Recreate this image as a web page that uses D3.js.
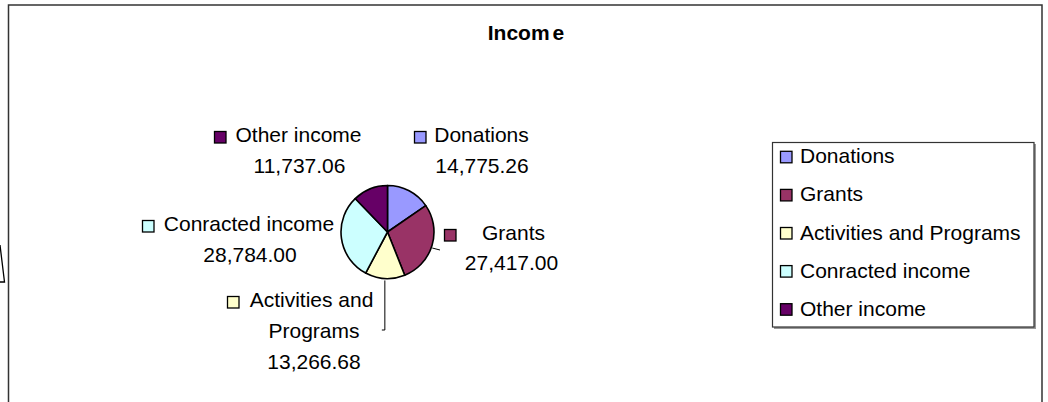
<!DOCTYPE html>
<html><head><meta charset="utf-8">
<script src="https://cdn.jsdelivr.net/npm/d3@7"></script>
<style>
html,body{margin:0;padding:0;background:#fff;}
svg{display:block;font-family:"Liberation Sans",Arial,sans-serif;}
</style></head>
<body><svg id="chart" width="1048" height="402"></svg>
<script>
const categories = ["Donations","Grants","Activities and Programs","Conracted income","Other income"];
const values = [14775.26, 27417.00, 13266.68, 28784.00, 11737.06];
const colors = ["#9999FF","#993366","#FFFFCC","#CCFFFF","#660066"];
const chartTitle = "Income";

const svg = d3.select("#chart");
const fmt = d3.format(",.2f");

// chart frame
svg.append("path").attr("d","M8.5,410 V5 H1042 V410").attr("fill","none").attr("stroke","#333").attr("stroke-width",1.5);
// small fragment at far left
svg.append("path").attr("d","M0,245 L4.5,282 L0,282").attr("fill","none").attr("stroke","#000").attr("stroke-width",1.3);

// title
const t = svg.append("text").attr("x",526).attr("y",40).attr("text-anchor","middle")
  .attr("font-size",21).attr("font-weight","bold").attr("fill","#000");
t.append("tspan").text(chartTitle.slice(0,5));
t.append("tspan").attr("dx",3).text(chartTitle.slice(5));

// pie
const cx = 387.5, cy = 232, r = 46.5;
const pie = d3.pie().sort(null).value(d => d.v);
const arcs = pie(values.map((v,i)=>({v, name:categories[i], c:colors[i]})));
const arc = d3.arc().innerRadius(0).outerRadius(r);
const g = svg.append("g").attr("transform",`translate(${cx},${cy})`);
g.selectAll("path").data(arcs).join("path").attr("d",arc)
  .attr("fill",d=>d.data.c).attr("stroke","#000").attr("stroke-width",1.6).attr("stroke-linejoin","round");

// leader lines
const leader = d3.line();
function edgePt(a, extra){ return [cx + Math.sin(a)*(r+extra), cy - Math.cos(a)*(r+extra)]; }
const midG = (arcs[1].startAngle+arcs[1].endAngle)/2;
const midA = (arcs[2].startAngle+arcs[2].endAngle)/2;
svg.append("path").attr("d", leader([edgePt(midG+0.05,1), [440,250]])).attr("fill","none").attr("stroke","#000").attr("stroke-width",1);
svg.append("path").attr("d", leader([edgePt(midA,2), [edgePt(midA,2)[0],330],[edgePt(midA,2)[0]-3,330]])).attr("fill","none").attr("stroke","#000").attr("stroke-width",1);

// data labels: each line is [text, centerX, baseline]
const FS = 21;
const labelLayout = [
  {i:0, sw:[414,131], lines:[["Donations",481.5,142.3],[null,482,173.3]]},
  {i:1, sw:[444,229], lines:[["Grants",513.5,240],[null,511.5,270]]},
  {i:2, sw:[227,296], lines:[["Activities and",311.5,306.7],["Programs",314,337.7],[null,314,368.7]]},
  {i:3, sw:[142,220], lines:[["Conracted income",249,231],[null,250,261.7]]},
  {i:4, sw:[214,131], lines:[["Other income",298.5,142.3],[null,299.5,173.3]]}
];
const lab = svg.append("g").attr("font-size",FS).attr("fill","#000");
labelLayout.forEach(L=>{
  lab.append("rect").attr("x",L.sw[0]+0.5).attr("y",L.sw[1]+0.5).attr("width",11.5).attr("height",11.5)
    .attr("fill",colors[L.i]).attr("stroke","#000").attr("stroke-width",1.3);
  L.lines.forEach(([txt,x,y])=>{
    lab.append("text").attr("x",x).attr("y",y).attr("text-anchor","middle")
      .text(txt===null ? fmt(values[L.i]) : txt);
  });
});

// legend
const lg = svg.append("g");
lg.append("rect").attr("x",774).attr("y",144).attr("width",262).attr("height",185).attr("fill","#999");
lg.append("rect").attr("x",772.5).attr("y",142.5).attr("width",261.5).attr("height",184.5)
  .attr("fill","#fff").attr("stroke","#333").attr("stroke-width",1.2);
const ly = d3.scalePoint().domain(categories).range([163.3,315.7]);
categories.forEach((c,i)=>{
  const y = ly(c);
  lg.append("rect").attr("x",780.5).attr("y",y-12).attr("width",11.5).attr("height",11.5)
    .attr("fill",colors[i]).attr("stroke","#000").attr("stroke-width",1.3);
  lg.append("text").attr("x",800).attr("y",y).attr("font-size",FS).attr("fill","#000").text(c);
});
</script></body></html>
